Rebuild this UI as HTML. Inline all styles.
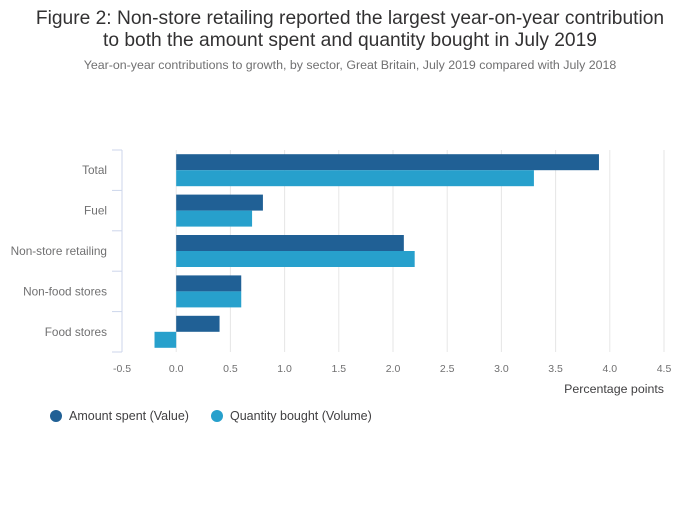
<!DOCTYPE html>
<html><head><meta charset="utf-8"><style>
body{margin:0;background:#fff;font-family:"Liberation Sans",sans-serif;}
svg text{font-family:"Liberation Sans",sans-serif;}
</style></head><body>
<svg id="chart" width="700" height="502">
<text x="350" y="24" text-anchor="middle" font-size="19.2" fill="#323132">Figure 2: Non-store retailing reported the largest year-on-year contribution</text>
<text x="350" y="46" text-anchor="middle" font-size="19.2" fill="#323132">to both the amount spent and quantity bought in July 2019</text>
<text x="350" y="69" text-anchor="middle" font-size="12.4" fill="#707071">Year-on-year contributions to growth, by sector, Great Britain, July 2019 compared with July 2018</text>
<g id="grid"></g><g id="bars"></g><g id="axes"></g>
<text x="664" y="393" text-anchor="end" font-size="12.4" fill="#414042">Percentage points</text>
<g>
<circle cx="56" cy="416" r="6" fill="#206095"/>
<text x="69" y="420" font-size="12.5" fill="#414042">Amount spent (Value)</text>
<circle cx="217" cy="416" r="6" fill="#27a0cc"/>
<text x="230" y="420" font-size="12.5" fill="#414042">Quantity bought (Volume)</text>
</g>
</svg>
<script>
const categories=["Total","Fuel","Non-store retailing","Non-food stores","Food stores"];
const valueSeries=[3.9,0.8,2.1,0.6,0.4];
const volumeSeries=[3.3,0.7,2.2,0.6,-0.2];
const xTicks=[-0.5,0,0.5,1,1.5,2,2.5,3,3.5,4,4.5];
const xTickLabels=["-0.5","0.0","0.5","1.0","1.5","2.0","2.5","3.0","3.5","4.0","4.5"];
const NS="http://www.w3.org/2000/svg";
const x0=122,x1=664,yTop=150,yBot=352;
function xs(v){return x0+(v-(-0.5))/(4.5-(-0.5))*(x1-x0);}
const band=(yBot-yTop)/categories.length;
function mk(t,a,p){const e=document.createElementNS(NS,t);for(const k in a)e.setAttribute(k,a[k]);p.appendChild(e);return e;}
const grid=document.getElementById('grid'),bars=document.getElementById('bars'),axes=document.getElementById('axes');
xTicks.forEach((t,i)=>{
 if(i>0){const l=mk('line',{x1:xs(t),x2:xs(t),y1:yTop,y2:yBot,stroke:'#e6e6e6','stroke-width':1},grid);
 
 }
 const tx=mk('text',{x:xs(t),y:372,'text-anchor':'middle','font-size':'10.5',fill:'#707071'},axes);
 tx.textContent=xTickLabels[i];
 
 
});
const ax=mk('line',{x1:x0,x2:x0,y1:yTop,y2:yBot,stroke:'#ccd6eb'},axes);


for(let i=0;i<=categories.length;i++){
 const tk=mk('line',{x1:x0-10,x2:x0,y1:yTop+i*band,y2:yTop+i*band,stroke:'#ccd6eb'},axes);
 
 
}
categories.forEach((c,i)=>{
 const yc=yTop+i*band+band/2;
 const lb=mk('text',{x:107,y:yc+4,'text-anchor':'end','font-size':'11.8','fill':'#707071'},axes);
 lb.textContent=c;
 
 
 [[valueSeries[i],'#206095',yc-16],[volumeSeries[i],'#27a0cc',yc]].forEach(([v,col,y],j)=>{
  const a=xs(Math.min(0,v)),b=xs(Math.max(0,v));
  const r=mk('rect',{x:a,y:y,width:b-a,height:16,fill:col},bars);
  
  
 });
});
</script>
</body></html>
